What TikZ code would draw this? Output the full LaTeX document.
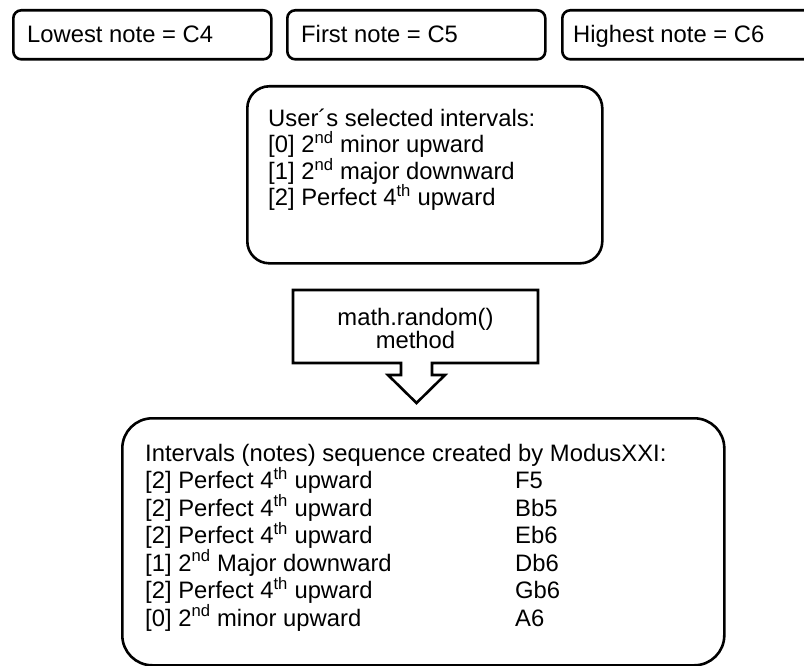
\documentclass[tikz,border=0pt]{standalone}
\usepackage{fontspec}
\setmainfont{Liberation Sans}
\begin{document}
\begin{tikzpicture}[x=1pt,y=-1pt,
  box/.style={draw=black, line width=2.6pt, rounded corners=8pt, inner sep=0pt, anchor=north west},
  txt/.style={anchor=base west, inner sep=0pt, font=\fontsize{23.8}{27}\selectfont},
  ctxt/.style={anchor=base, inner sep=0pt, font=\fontsize{23.8}{27}\selectfont},
  sup/.style={}]
\useasboundingbox (0,0) rectangle (804,666);
\begin{scope}
\clip (0,0) rectangle (804,666);
% top boxes
\node[box, minimum width=258pt, minimum height=49pt] (low) at (12,9) {};
\node[box, minimum width=258pt, minimum height=49pt] (first) at (286,9) {};
\node[box, minimum width=300pt, minimum height=49pt] (high) at (561,9) {};
\node[txt] (lowt) at (27,43) {Lowest note = C4};
\node[txt] (firstt) at (301,43) {First note = C5};
\node[txt] (hight) at (573,43) {Highest note = C6};
% middle box
\node[box, rounded corners=22pt, minimum width=355pt, minimum height=177pt] (sel) at (246,85) {};
\node[txt] (s0) at (268,126.5) {User´s selected intervals:};
\node[txt] (s1) at (268,153) {[0] 2\textsuperscript{nd} minor upward};
\node[txt] (s2) at (268,179.5) {[1] 2\textsuperscript{nd} major downward};
\node[txt] (s3) at (268,206) {[2] Perfect 4\textsuperscript{th} upward};
% arrow callout
\draw[line width=2.6pt, line join=miter]
  (293,290) -- (538,290) -- (538,363) -- (432,363) -- (432,375) -- (445,375)
  -- (416.5,403) -- (388,375) -- (401,375) -- (401,363) -- (293,363) -- cycle;
\coordinate (tip) at (416.5,403);
\node[ctxt] (m1) at (415.5,325.5) {math.random()};
\node[ctxt] (m2) at (415.5,348.5) {method};
% bottom box
\node[box, rounded corners=30pt, minimum width=602pt, minimum height=247pt] (seq) at (121,417) {};
\node[txt] (h) at (145,461) {Intervals (notes) sequence created by ModusXXI:};
\node[txt] (r1) at (145,488.5) {[2] Perfect 4\textsuperscript{th} upward};
\node[txt] (r2) at (145,516) {[2] Perfect 4\textsuperscript{th} upward};
\node[txt] (r3) at (145,543.5) {[2] Perfect 4\textsuperscript{th} upward};
\node[txt] (r4) at (145,571) {[1] 2\textsuperscript{nd} Major downward};
\node[txt] (r5) at (145,598.5) {[2] Perfect 4\textsuperscript{th} upward};
\node[txt] (r6) at (145,626) {[0] 2\textsuperscript{nd} minor upward};
\node[txt] (n1) at (515,488.5) {F5};
\node[txt] (n2) at (515,516) {Bb5};
\node[txt] (n3) at (515,543.5) {Eb6};
\node[txt] (n4) at (515,571) {Db6};
\node[txt] (n5) at (515,598.5) {Gb6};
\node[txt] (n6) at (515,626) {A6};
\end{scope}
\end{tikzpicture}
\end{document}
